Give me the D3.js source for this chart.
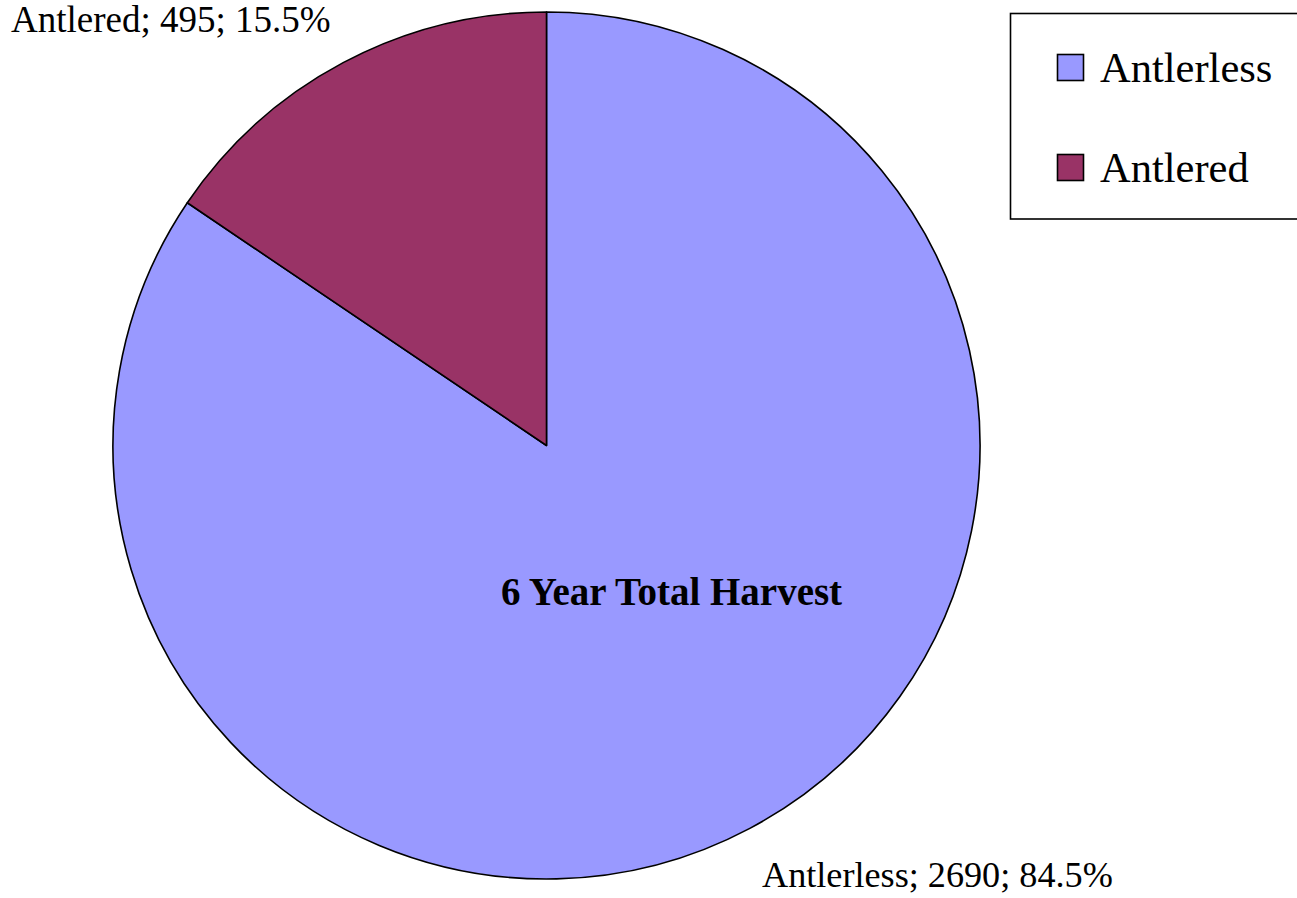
<!DOCTYPE html>
<html>
<head>
<meta charset="utf-8">
<script src="https://cdn.jsdelivr.net/npm/d3@7"></script>
<style>
  html, body { margin: 0; padding: 0; background: #fff; }
  svg { display: block; }
  text { font-family: "Liberation Serif", "Times New Roman", serif; fill: #000; }
</style>
</head>
<body>
<svg id="chart" width="1297" height="898"></svg>
<script>
const categories = ["Antlerless", "Antlered"];
const values = [2690, 495];
const percents = ["84.5%", "15.5%"];
const colors = ["#9999FF", "#993366"];
const title = "6 Year Total Harvest";

const svg = d3.select("#chart");
const cx = 546.5, cy = 445.5, r = 433.5;

const data = categories.map((c, i) => ({ name: c, value: values[i], pct: percents[i], color: colors[i] }));

const pie = d3.pie().value(d => d.value).sort(null);
const arc = d3.arc().innerRadius(0).outerRadius(r);
const arcs = pie(data);

const g = svg.append("g").attr("transform", `translate(${cx},${cy})`);
g.selectAll("path.slice")
  .data(arcs)
  .enter().append("path")
  .attr("class", "slice")
  .attr("d", arc)
  .attr("fill", d => d.data.color)
  .attr("stroke", "#000")
  .attr("stroke-width", 1.6)
  .attr("stroke-linejoin", "round");

// Data labels
svg.append("text")
  .attr("x", 11).attr("y", 32)
  .attr("font-size", 37)
  .text(`${data[1].name}; ${data[1].value}; ${data[1].pct}`);

svg.append("text")
  .attr("x", 762).attr("y", 887)
  .attr("font-size", 36.2)
  .text(`${data[0].name}; ${data[0].value}; ${data[0].pct}`);

// Title inside pie
svg.append("text")
  .attr("x", 671.5).attr("y", 605)
  .attr("text-anchor", "middle")
  .attr("font-size", 39)
  .attr("font-weight", "bold")
  .text(title);

// Legend
const lg = svg.append("g");
lg.append("rect")
  .attr("x", 1010.5).attr("y", 13.5)
  .attr("width", 300).attr("height", 205.5)
  .attr("fill", "#fff").attr("stroke", "#000").attr("stroke-width", 1.6);

const items = lg.selectAll("g.item").data(data).enter().append("g").attr("class", "item")
  .attr("transform", (d, i) => `translate(0, ${i * 100})`);
items.append("rect")
  .attr("x", 1057.5).attr("y", 54.5)
  .attr("width", 26).attr("height", 26)
  .attr("fill", d => d.color).attr("stroke", "#000").attr("stroke-width", 1.6);
items.append("text")
  .attr("x", 1100).attr("y", 82)
  .attr("font-size", 42.5)
  .text(d => d.name);
</script>
</body>
</html>
